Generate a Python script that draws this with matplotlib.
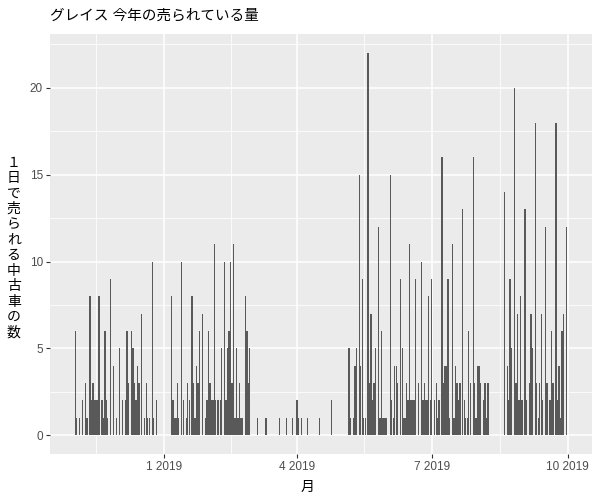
import matplotlib
matplotlib.use("Agg")
import matplotlib.pyplot as plt
import numpy as np
import pandas as pd

plt.rcParams['font.family'] = ['Liberation Sans', 'Noto Sans CJK JP', 'DejaVu Sans']

# daily counts, one list per month (index 0 = 1st of month)
nov_2018 = [0, 6, 1, 0, 1, 0, 2, 0, 3, 1, 0, 8, 2, 3, 2, 2, 2, 8, 0, 2,
            1, 6, 2, 1, 0, 9, 0, 4, 0, 1]
dec_2018 = [0, 5, 0, 2, 0, 2, 6, 3, 0, 6, 5, 3, 2, 4, 3, 0, 7, 0, 1, 3,
            1, 1, 0, 10, 1, 0, 2, 0, 0, 0, 0]
jan_2019 = [0, 0, 0, 0, 0, 8, 2, 1, 1, 3, 1, 0, 10, 2, 0, 1, 3, 2, 0, 8,
            3, 1, 4, 3, 6, 0, 7, 0, 1, 2, 6]
feb_2019 = [3, 2, 2, 11, 2, 2, 2, 2, 5, 0, 10, 2, 5, 6, 10, 3, 11, 1, 5, 1,
            3, 1, 1, 0, 8, 6, 3, 5]
mar_2019 = [0, 0, 0, 0, 1, 0, 0, 0, 0, 0, 1, 0, 0, 0, 0, 0, 0, 0, 0, 1,
            0, 0, 0, 0, 1, 0, 0, 0, 1, 0, 0]
apr_2019 = [2, 1, 0, 1, 0, 0, 0, 1, 0, 0, 0, 0, 0, 0, 0, 1, 0, 0, 0, 0,
            0, 0, 0, 2, 0, 0, 0, 0, 0, 0]
may_2019 = [0, 0, 0, 0, 0, 5, 1, 0, 1, 4, 5, 0, 15, 4, 9, 1, 1, 0, 22, 3,
            7, 2, 3, 5, 0, 12, 1, 6, 1, 1, 1]
jun_2019 = [0, 0, 15, 2, 1, 4, 4, 3, 0, 9, 5, 1, 1, 3, 2, 11, 2, 2, 2, 9,
            0, 3, 0, 10, 2, 3, 2, 2, 8, 2]
jul_2019 = [9, 0, 2, 3, 1, 2, 0, 16, 3, 4, 4, 9, 1, 0, 11, 1, 4, 3, 2, 3,
            0, 13, 2, 1, 1, 6, 3, 0, 16, 3, 1]
aug_2019 = [4, 4, 3, 0, 2, 3, 1, 3, 0, 0, 0, 0, 0, 0, 0, 0, 0, 0, 14, 0,
            4, 2, 9, 5, 0, 20, 3, 7, 2, 8, 2]
sep_2019 = [0, 13, 2, 0, 3, 7, 5, 0, 18, 3, 1, 3, 7, 2, 0, 12, 3, 0, 2, 6,
            3, 0, 18, 2, 4, 1, 6, 7, 0, 12]

months = ["2018-11", "2018-12", "2019-01", "2019-02", "2019-03", "2019-04",
          "2019-05", "2019-06", "2019-07", "2019-08", "2019-09"]
monthly = [nov_2018, dec_2018, jan_2019, feb_2019, mar_2019, apr_2019,
           may_2019, jun_2019, jul_2019, aug_2019, sep_2019]

break_dates = ["2019-01-01", "2019-04-01", "2019-07-01", "2019-10-01"]
break_labels = ["1 2019", "4 2019", "7 2019", "10 2019"]

title = "グレイス 今年の売られている量"
ylabel = "１日で売られる中古車の数"
xlabel = "月"

# build the daily series, keep only days that had sales
dates = []
counts = []
for m, vals in zip(months, monthly):
    days = pd.date_range(m + "-01", periods=len(vals), freq="D")
    dates.extend(days)
    counts.extend(vals)
df = pd.DataFrame({"date": dates, "n": counts})
df = df[df["n"] > 0]

fig = plt.figure(figsize=(6, 5), dpi=100)
ax = fig.add_axes([0.0833, 0.0914, 0.9028, 0.8406])
ax.set_facecolor("#EBEBEB")

ax.bar(df["date"], df["n"], width=0.9, color="#595959", linewidth=0)

ymax = df["n"].max()
ax.set_ylim(-0.05 * ymax, 1.05 * ymax)
ax.margins(x=0.05)

ax.set_yticks([0, 5, 10, 15, 20])
ax.set_yticks([2.5, 7.5, 12.5, 17.5, 22.5], minor=True)

# major breaks plus ggplot-style minor breaks halfway between them
majors = pd.to_datetime(break_dates)
edges = pd.to_datetime(["2018-10-01"] + break_dates)
minors = [edges[i] + (edges[i + 1] - edges[i]) / 2 for i in range(len(edges) - 1)]
ax.set_xticks(majors)
ax.set_xticklabels(break_labels)
ax.set_xticks(minors, minor=True)

ax.grid(which="major", color="white", linewidth=1.1)
ax.grid(which="minor", color="white", linewidth=0.55)
ax.set_axisbelow(True)

for s in ax.spines.values():
    s.set_visible(False)

ax.tick_params(which="major", length=3, width=0.8, color="#333333",
               labelcolor="#4D4D4D", labelsize=8.5, pad=2)
ax.tick_params(which="minor", length=0)

fig.text(0.0833, 0.968, title, fontsize=10.5, va="center", ha="left",
         color="black")
fig.text(0.513, 0.026, xlabel, fontsize=10, ha="center", va="center")
fig.text(0.023, 0.505, "\n".join(ylabel), fontsize=10, ha="center",
         va="center", linespacing=1.13)

fig.savefig("out.png", dpi=100)
